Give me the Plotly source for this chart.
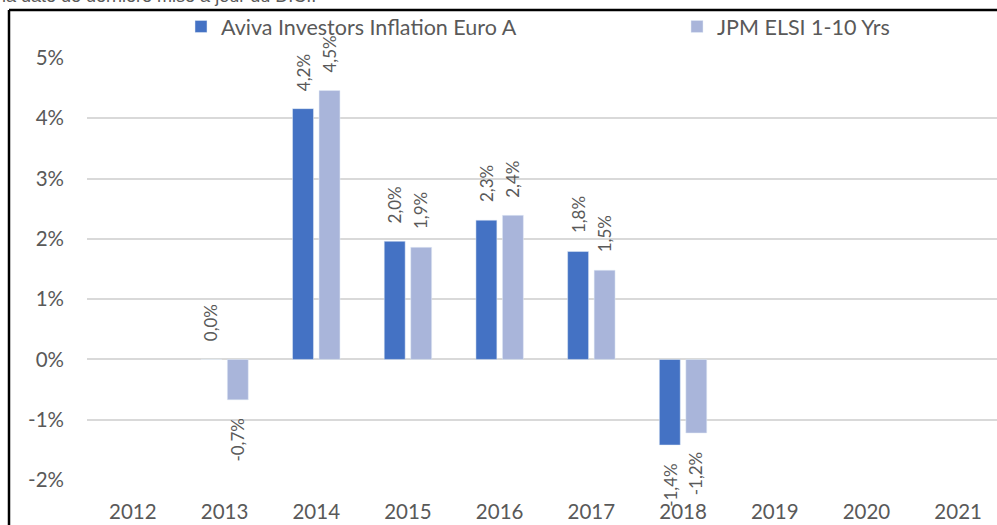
import plotly.graph_objects as go

years = ["2012", "2013", "2014", "2015", "2016", "2017", "2018", "2019", "2020", "2021"]
fund = [None, 0.0, 4.16, 1.96, 2.31, 1.79, -1.42, None, None, None]
bench = [None, -0.67, 4.46, 1.86, 2.39, 1.48, -1.22, None, None, None]
fund_name = "Aviva Investors Inflation Euro A"
bench_name = "JPM ELSI 1-10 Yrs"
ytick_vals = [-2, -1, 0, 1, 2, 3, 4, 5]
ytick_text = ["-2%", "-1%", "0%", "1%", "2%", "3%", "4%", "5%"]
top_note = "la date de dernière mise à jour du DICI."

W, H = 997, 525
L, R, T, B = 87, 0, 58, 45
PW, PH = W - L - R, H - T - B
slot_px = 91.7
FONT = "Lato"
GRAY = "#595959"
C1, C2 = "#4472C4", "#A9B5DA"

def fmt(v):
    return f"{v:.1f}".replace(".", ",") + "%"

fig = go.Figure()
fig.add_trace(go.Bar(x=years, y=fund, name=fund_name, marker_color=C1, legend="legend"))
fig.add_trace(go.Bar(x=years, y=bench, name=bench_name, marker_color=C2, legend="legend2"))

half = slot_px * (1 - 0.422) / 4
annotations = []
for series, shift in ((fund, -half), (bench, half)):
    for i, v in enumerate(series):
        if v is None:
            continue
        pos = v >= 0
        annotations.append(dict(
            x=i, y=v, xref="x", yref="y", text=fmt(v), showarrow=False,
            textangle=-90, xshift=shift, yshift=16 if pos else -16,
            yanchor="bottom" if pos else "top", xanchor="center",
            font=dict(family=FONT, size=17, color=GRAY)))

annotations.append(dict(
    text=top_note, xref="paper", yref="paper",
    x=(0 - L) / PW, y=1 + (T - 8) / PH, xanchor="left", yanchor="bottom",
    showarrow=False, font=dict(family="Liberation Sans, Arial", size=18, color=GRAY)))

shapes = [
    dict(type="line", xref="paper", yref="paper",
         x0=(9 - L) / PW, x1=(9 - L) / PW, y0=1 + (T - 10) / PH, y1=-0.2,
         line=dict(color="black", width=2.5)),
    dict(type="line", xref="paper", yref="paper",
         x0=(9 - L) / PW, x1=1.05, y0=1 + (T - 10) / PH, y1=1 + (T - 10) / PH,
         line=dict(color="black", width=2.5)),
]

legend_common = dict(orientation="h", xref="container", yref="container",
                     xanchor="left", yanchor="top",
                     font=dict(family=FONT, size=21.5, color=GRAY),
                     bgcolor="rgba(0,0,0,0)", itemwidth=30)

fig.update_layout(
    width=W, height=H,
    margin=dict(l=L, r=R, t=T, b=B, pad=0, autoexpand=False),
    paper_bgcolor="white", plot_bgcolor="white",
    barmode="group", bargap=0.422, bargroupgap=0.21,
    font=dict(family=FONT, color=GRAY),
    showlegend=True,
    legend=dict(x=181 / W, y=1 - 6 / H, **legend_common),
    legend2=dict(x=677 / W, y=1 - 6 / H, **legend_common),
    xaxis=dict(type="category", range=[-0.5, -0.5 + PW / slot_px],
               showgrid=False, showline=False, zeroline=False, ticks="",
               tickfont=dict(family=FONT, size=20.5, color=GRAY),
               ticklabelstandoff=17),
    yaxis=dict(range=[-2, 5], tickvals=ytick_vals, ticktext=ytick_text,
               showgrid=True, gridcolor="#D9D9D9", gridwidth=1.5,
               zeroline=True, zerolinecolor="#D9D9D9", zerolinewidth=1.5,
               showline=False, ticks="",
               tickfont=dict(family=FONT, size=20.5, color=GRAY),
               ticklabelstandoff=22),
    annotations=annotations, shapes=shapes,
)

fig.write_html("out.html")
